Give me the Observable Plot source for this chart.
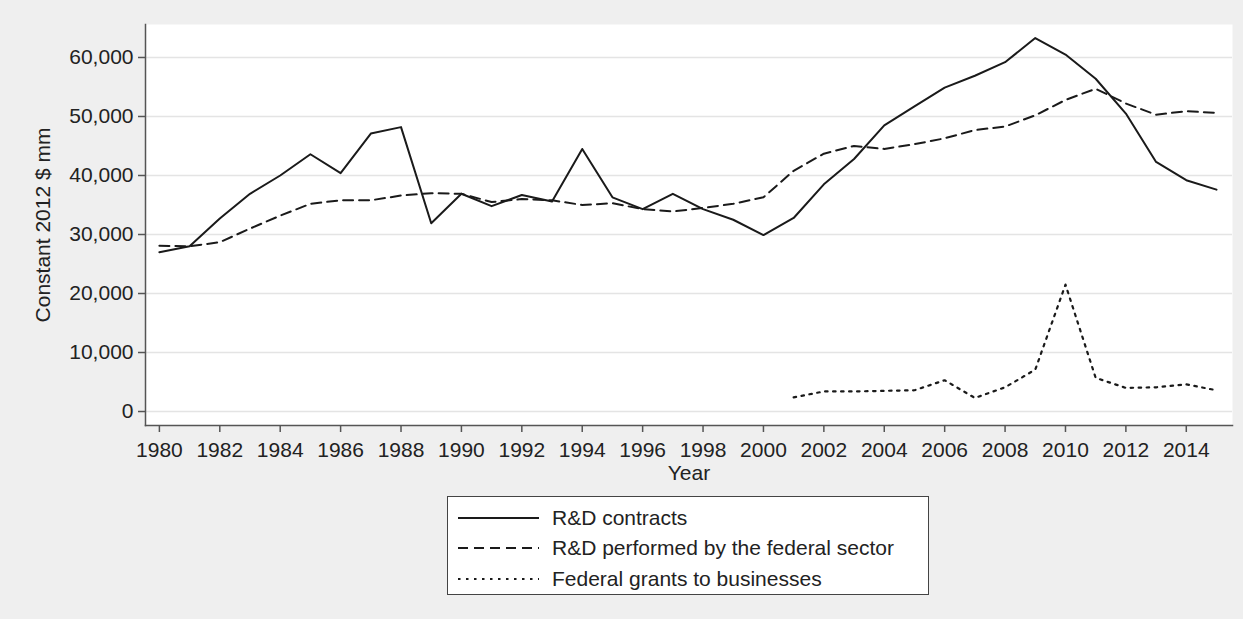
<!DOCTYPE html>
<html><head><meta charset="utf-8">
<script src="https://cdn.jsdelivr.net/npm/d3@7"></script>
<script src="https://cdn.jsdelivr.net/npm/@observablehq/plot@0.6"></script>
<style>
html,body{margin:0;padding:0;background:#efefef;}
#wrap{position:relative;width:1243px;height:619px;font-family:"Liberation Sans",Arial,sans-serif;color:#222;}
#chart{position:absolute;left:0;top:0;}
#legend{position:absolute;left:447px;top:496px;width:480px;height:97px;background:#fff;border:1.5px solid #444;}
.row{position:absolute;left:0;height:30px;width:100%;}
.row svg{position:absolute;left:10px;top:0;}
.row span{position:absolute;left:104px;top:3px;font-size:21px;line-height:24px;white-space:nowrap;color:#222;}
</style></head>
<body><div id="wrap"><div id="chart"></div><div id="legend"></div></div>
<script>
// ---- data (constant 2012 $ mm) ----
const years = [1980,1981,1982,1983,1984,1985,1986,1987,1988,1989,
               1990,1991,1992,1993,1994,1995,1996,1997,1998,1999,
               2000,2001,2002,2003,2004,2005,2006,2007,2008,2009,
               2010,2011,2012,2013,2014,2015];
const contracts = [27000,28000,32700,36900,40000,43600,40400,47100,48200,31900,
                   36900,34800,36700,35600,44500,36300,34300,36900,34300,32500,
                   29900,32800,38500,42800,48500,51700,54900,56900,59200,63300,
                   60500,56400,50500,42300,39200,37600];
const federal = [28100,28000,28700,31000,33200,35200,35800,35800,36600,37000,
                 36900,35500,36000,35800,35000,35300,34300,33900,34500,35200,
                 36300,40800,43700,45000,44500,45300,46300,47700,48300,50200,
                 52800,54700,52200,50300,50900,50600];
const grants = [null,null,null,null,null,null,null,null,null,null,
                null,null,null,null,null,null,null,null,null,null,
                null,2400,3400,3400,3500,3600,5300,2300,4100,7100,
                21500,5700,4000,4100,4600,3600];
const seriesNames = ["R&D contracts","R&D performed by the federal sector","Federal grants to businesses"];
const seriesDash = [null,"10,6","2.5,5.5"];
const xTicks = [1980,1982,1984,1986,1988,1990,1992,1994,1996,1998,2000,2002,2004,2006,2008,2010,2012,2014];
const yTicks = [0,10000,20000,30000,40000,50000,60000];
const yLabel = "Constant 2012 $ mm";
const xLabel = "Year";

const rows = years.map((y,i)=>({year:y, contracts:contracts[i], federal:federal[i], grants:grants[i]}));
const ink = "#1a1a1a";
const fmt = d3.format(",");

const chart = Plot.plot({
  width: 1243,
  height: 488,
  marginLeft: 145,
  marginRight: 11,
  marginTop: 24,
  marginBottom: 63,
  style: {background: "transparent", fontFamily: '"Liberation Sans", Arial, sans-serif', fontSize: "21px", color: "#222"},
  x: {domain: [1979.54, 2015.53]},
  y: {domain: [-2370, 65590]},
  marks: [
    Plot.frame({fill: "white", stroke: null}),
    Plot.gridY(yTicks, {stroke: "#e4e4e4", strokeOpacity: 1, strokeWidth: 1.5}),
    Plot.line(rows, {x: "year", y: "contracts", stroke: ink, strokeWidth: 2}),
    Plot.line(rows, {x: "year", y: "federal", stroke: ink, strokeWidth: 2, strokeDasharray: seriesDash[1]}),
    Plot.line(rows.filter(d => d.grants != null), {x: "year", y: "grants", stroke: ink, strokeWidth: 2.2, strokeDasharray: seriesDash[2]}),
    Plot.frame({anchor: "bottom", stroke: "#555", strokeWidth: 1.5}),
    Plot.frame({anchor: "left", stroke: "#555", strokeWidth: 1.5}),
    Plot.axisX(xTicks, {tickFormat: "d", tickSize: 7, tickPadding: 10, stroke: "#555", strokeWidth: 1.5, fill: "#222", label: null}),
    Plot.axisY(yTicks, {tickFormat: fmt, tickSize: 7, tickPadding: 5, stroke: "#555", strokeWidth: 1.5, fill: "#222", label: null}),
    Plot.text([xLabel], {frameAnchor: "bottom", dy: 40, lineAnchor: "top", textAnchor: "middle", fontSize: 21, fill: "#222"}),
    Plot.text([yLabel], {frameAnchor: "left", dx: -102, rotate: -90, textAnchor: "middle", lineAnchor: "middle", fontSize: 21, fill: "#222"})
  ]
});
document.getElementById("chart").appendChild(chart);

// ---- legend ----
const leg = document.getElementById("legend");
const rowTops = [6, 36, 67];
seriesNames.forEach((name, i) => {
  const r = document.createElement("div");
  r.className = "row";
  r.style.top = rowTops[i] + "px";
  const dash = seriesDash[i] ? `stroke-dasharray="${seriesDash[i]}"` : "";
  r.innerHTML = `<svg width="82" height="30"><line x1="0" x2="81" y1="15" y2="15" stroke="${ink}" stroke-width="2" ${dash}/></svg><span>${name.replace("&","&amp;")}</span>`;
  leg.appendChild(r);
});
</script></body></html>
